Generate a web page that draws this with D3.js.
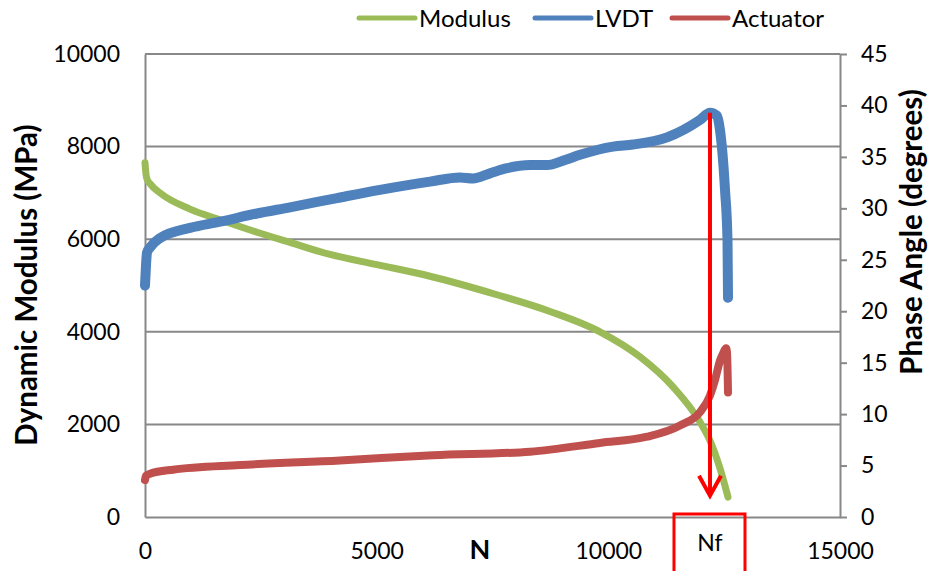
<!DOCTYPE html>
<html>
<head>
<meta charset="utf-8">
<script src="https://cdn.jsdelivr.net/npm/d3@7"></script>
<style>
  html, body { margin: 0; padding: 0; background: #fff; }
  svg { display: block; font-family: Lato, "Open Sans", sans-serif; }
</style>
</head>
<body>
<svg id="chart" width="932" height="571"></svg>
<script>
// ---- Data ----
const modulusN = [0, 22, 43, 108, 324, 971, 1619, 2417, 3130, 3993, 5007, 6151, 7597, 8741, 9820, 10683, 11396, 11979, 12194, 12410, 12583];
const modulusMPa = [7650, 7400, 7300, 7200, 7000, 6650, 6420, 6150, 5930, 5670, 5450, 5200, 4800, 4440, 4000, 3460, 2810, 2050, 1650, 1050, 430];

const lvdtN = [0, 22, 43, 108, 324, 971, 1619, 2417, 3130, 4144, 5072, 6151, 6798, 7079, 7446, 7813, 8310, 8676, 9065, 9389, 10101, 10533, 11266, 11979, 12194, 12345, 12410, 12518, 12572, 12583];
const lvdtDeg = [22.5, 24.5, 25.7, 26.2, 27.1, 28.1, 28.7, 29.5, 30.1, 31.0, 31.8, 32.6, 33.0, 32.9, 33.4, 33.9, 34.2, 34.2, 34.7, 35.2, 36.0, 36.2, 36.9, 38.6, 39.3, 39.0, 37.6, 31.8, 26.9, 21.3];

const actN = [0, 22, 108, 604, 2050, 4209, 6216, 8310, 9820, 10835, 11547, 11979, 12194, 12302, 12410, 12475, 12540, 12561, 12583];
const actDeg = [3.6, 4.0, 4.2, 4.6, 5.05, 5.5, 6.0, 6.35, 7.2, 7.8, 8.9, 10.2, 11.8, 13.3, 15.2, 15.9, 16.4, 16.0, 12.1];

const xTicks = [0, 5000, 10000, 15000];
const leftTicks = [0, 2000, 4000, 6000, 8000, 10000];
const rightTicks = [0, 5, 10, 15, 20, 25, 30, 35, 40, 45];
const seriesNames = ["Modulus", "LVDT", "Actuator"];
const seriesColors = ["#9BBB59", "#4F81BD", "#C0504D"];
const nfN = 12194;
const nfLabel = "Nf";

// ---- Layout ----
const svg = d3.select("#chart");
const plot = { left: 145, right: 840, top: 54, bottom: 517 };
const gridColor = "#888888";

const x = d3.scaleLinear().domain([0, 15000]).range([plot.left, plot.right]);
const yL = d3.scaleLinear().domain([0, 10000]).range([plot.bottom, plot.top]);
const yR = d3.scaleLinear().domain([0, 45]).range([plot.bottom, plot.top]);

// gridlines
svg.append("g").selectAll("line").data(leftTicks.filter(d => d > 0)).join("line")
  .attr("x1", plot.left).attr("x2", plot.right)
  .attr("y1", d => yL(d)).attr("y2", d => yL(d))
  .attr("stroke", gridColor).attr("stroke-width", 2);

// left axis
const gL = svg.append("g").attr("transform", `translate(${plot.left},0)`)
  .call(d3.axisLeft(yL).tickValues(leftTicks).tickSize(0).tickPadding(25).tickFormat(d3.format("d")));
gL.select(".domain").attr("stroke", gridColor).attr("stroke-width", 2);
gL.selectAll("text").attr("font-size", 23).attr("fill", "#000").style("font-family", "Lato");

// right axis
const gR = svg.append("g").attr("transform", `translate(${plot.right},0)`)
  .call(d3.axisRight(yR).tickValues(rightTicks).tickSize(7).tickPadding(14).tickSizeOuter(0));
gR.select(".domain").attr("stroke", gridColor).attr("stroke-width", 2);
gR.selectAll(".tick line").attr("stroke", gridColor).attr("stroke-width", 2);
gR.selectAll("text").attr("font-size", 23).attr("fill", "#000").style("font-family", "Lato");

// bottom axis
const gB = svg.append("g").attr("transform", `translate(0,${plot.bottom})`)
  .call(d3.axisBottom(x).tickValues(xTicks).tickSize(0).tickPadding(26).tickFormat(d3.format("d")));
gB.select(".domain").attr("stroke", gridColor).attr("stroke-width", 2);
gB.selectAll("text").attr("font-size", 23).attr("fill", "#000").style("font-family", "Lato");

// axis titles
svg.append("text")
  .attr("transform", `translate(29,285) rotate(-90)`)
  .attr("text-anchor", "middle").attr("dominant-baseline", "middle")
  .attr("font-size", 29.5).attr("font-weight", "bold").text("Dynamic Modulus (MPa)");
svg.append("text")
  .attr("transform", `translate(914,232) rotate(-90)`)
  .attr("text-anchor", "middle").attr("dominant-baseline", "middle")
  .attr("font-size", 29.5).attr("font-weight", "bold").text("Phase Angle (degrees)");
svg.append("text")
  .attr("x", 480).attr("y", 552)
  .attr("text-anchor", "middle").attr("dominant-baseline", "middle")
  .attr("font-size", 27).attr("font-weight", "bold").text("N");

// series
const series = [
  { n: modulusN, v: modulusMPa, y: yL, w: 7 },
  { n: lvdtN, v: lvdtDeg, y: yR, w: 10 },
  { n: actN, v: actDeg, y: yR, w: 8 }
];
series.forEach((s, i) => {
  const pts = s.n.map((d, j) => [d, s.v[j]]);
  const line = d3.line().x(d => x(d[0])).y(d => s.y(d[1])).curve(d3.curveMonotoneX);
  svg.append("path").datum(pts).attr("d", line)
    .attr("fill", "none").attr("stroke", seriesColors[i])
    .attr("stroke-width", s.w).attr("stroke-linecap", "round").attr("stroke-linejoin", "round");
});

// Nf arrow
const peakIdx = lvdtDeg.indexOf(d3.max(lvdtDeg));
const ax = x(nfN);
const aTop = yR(lvdtDeg[peakIdx]);
const aTip = yL(460);
svg.append("line").attr("x1", ax).attr("x2", ax).attr("y1", aTop).attr("y2", aTip - 2)
  .attr("stroke", "#FF0000").attr("stroke-width", 4);
svg.append("path")
  .attr("d", `M${ax - 11},${aTip - 20} L${ax},${aTip} L${ax + 11},${aTip - 20}`)
  .attr("fill", "none").attr("stroke", "#FF0000").attr("stroke-width", 4);

// Nf box
svg.append("rect").attr("x", ax - 36).attr("y", 514).attr("width", 71).attr("height", 70)
  .attr("fill", "none").attr("stroke", "#FF0000").attr("stroke-width", 3);
svg.append("text").attr("x", ax).attr("y", 545)
  .attr("text-anchor", "middle").attr("dominant-baseline", "middle")
  .attr("font-size", 23).text(nfLabel);

// legend
const legendX = [359, 535, 672];
const lg = svg.append("g");
seriesNames.forEach((name, i) => {
  lg.append("line").attr("x1", legendX[i]).attr("x2", legendX[i] + 56)
    .attr("y1", 18).attr("y2", 18)
    .attr("stroke", seriesColors[i]).attr("stroke-width", 5).attr("stroke-linecap", "round");
  lg.append("text").attr("x", legendX[i] + 60).attr("y", 27)
    .attr("font-size", 24).text(name);
});
</script>
</body>
</html>
